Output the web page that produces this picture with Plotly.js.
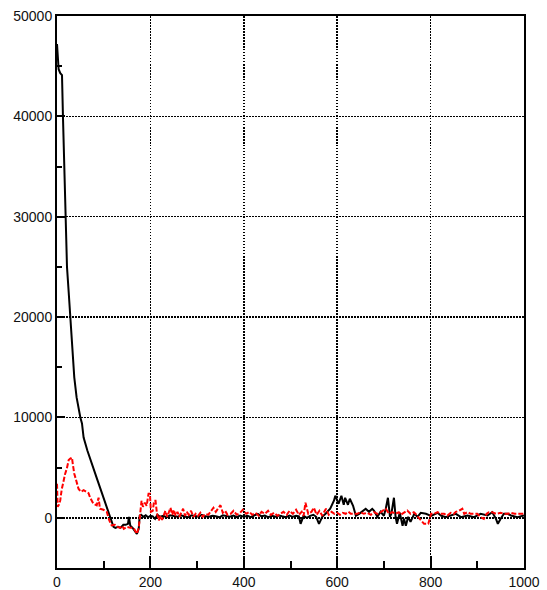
<!DOCTYPE html>
<html>
<head>
<meta charset="utf-8">
<script src="https://cdn.plot.ly/plotly-3.0.1.min.js"></script>
<style>html,body{margin:0;padding:0;background:#fff;}#chart{width:547px;height:590px;}</style>
</head>
<body>
<div id="chart"></div>
<script>
// Black (solid) series
var blackX = [0, 1, 2, 3.5, 7, 10.7, 12.8, 15.6, 17.8, 21.4, 25, 28.5, 32, 37, 42, 46.4, 50, 53.5, 57, 65, 72, 78.5, 87, 96.4, 104, 110.7, 114, 117.5, 121, 125, 131, 136, 139, 142, 147, 152, 154, 157, 162, 166, 168, 171, 175, 177, 180, 185, 190, 195, 200, 205, 210, 215, 220, 228, 235, 242, 250, 258, 265, 272, 280, 288, 295, 303, 310, 318, 325, 333, 340, 348, 355, 362, 370, 378, 385, 392, 400, 408, 415, 422, 430, 438, 445, 452, 460, 468, 475, 482, 490, 498, 505, 512, 518, 521.6, 528, 535, 542, 549, 555, 561, 568, 575, 585, 593, 596, 603, 609, 614, 617, 623, 627, 634, 640, 647, 654, 661, 668, 675, 679, 686, 693, 700, 704, 708.6, 713, 716, 721.5, 725, 728, 734, 740, 743, 747, 752, 757, 765, 772, 779, 790, 801, 815, 822, 832, 843, 854, 865, 879, 893, 907, 922, 932, 940, 944, 950, 957, 965, 972, 986, 1000];
var blackY = [47200, 46000, 45200, 44700, 44300, 44100, 39900, 34600, 30000, 25000, 22500, 20000, 16700, 14000, 12000, 10700, 10000, 9400, 8000, 6700, 5700, 4750, 3700, 2430, 1400, 600, 0, -250, -900, -1000, -900, -1000, -800, -700, -700, -600, 100, -800, -1000, -1200, -1400, -1600, -1100, 200, 300, 100, 250, 50, 200, 150, -100, 300, 100, 200, 50, 250, 150, 100, 250, 150, 50, 250, 150, 100, 300, 150, 100, 200, 150, 50, 250, 150, 100, 230, 70, 230, 100, 200, 70, 230, 400, 150, 230, 70, 200, 100, 230, 150, 70, 230, 100, 200, 150, -600, 200, 0, 200, 300, 100, -600, 100, 400, 900, 1700, 2200, 1400, 2200, 1300, 2000, 1300, 1900, 1200, 200, 400, 700, 900, 600, 900, 700, 100, 600, 200, 900, 2000, 100, 400, 2000, 100, -600, 500, -800, -100, -800, 100, -400, 400, 100, 500, 400, 200, 500, 230, 70, 230, 400, 70, 230, 70, 400, 230, 560, -100, -600, -100, 400, 400, 230, 70, 230];

// Red (dashed) series
var redX = [0, 1.4, 4, 7, 10, 14, 17.5, 21, 25, 28.5, 32, 34, 37, 41, 46, 51, 57, 62.5, 67.5, 71, 78, 85, 89, 92, 99.5, 106.5, 112, 117, 124, 130, 135, 140, 143, 150, 157, 164, 168, 171, 175, 178.5, 181, 184, 188, 192, 196, 199, 201, 205, 208, 211, 214, 218, 222, 225, 229, 232, 236, 240, 243, 247, 250, 254, 258, 262, 266, 270, 274, 278, 282, 287, 292, 297, 302, 307, 312, 318, 324, 330, 335, 340, 345, 350, 355, 360, 365, 372, 378, 385, 392, 398, 405, 412, 418, 425, 432, 438, 445, 452, 458, 465, 472, 478, 485, 492, 498, 505, 512, 518, 524, 528, 532, 538, 545, 550, 556, 562, 568, 571, 576, 582, 588, 594, 600, 606, 612, 618, 624, 629, 636, 643, 650, 657, 664, 672, 679, 686, 693, 697, 704, 711, 718, 725, 732, 736, 743, 750, 757, 764, 768, 769, 786, 793, 795, 801, 808, 815, 822, 829, 836, 843, 850, 854, 861, 868, 872, 879, 886, 893, 900, 907, 914, 920, 925, 932, 940, 950, 957, 965, 972, 980, 990, 1000];
var redY = [3400, 1100, 1300, 1750, 2800, 3750, 4400, 4900, 5750, 5900, 6000, 5300, 4400, 3750, 2900, 2600, 2750, 2600, 2450, 2000, 1400, 1250, 2000, 900, 800, 600, -250, -750, -700, -900, -1000, -800, -1100, -900, -1000, -1000, -1300, -1600, -1000, 1100, 1700, 1100, 1500, 1200, 2400, 2400, 600, 700, 1700, 1700, 440, -260, 200, -200, 400, 700, 100, 700, 1000, 300, 800, 200, 600, 100, 500, 900, 200, 600, 300, 700, 100, 400, 200, 500, 100, 400, 300, 700, 1000, 600, 900, 1260, 500, 700, 300, 400, 700, 300, 500, 800, 400, 600, 300, 500, 200, 600, 400, 700, 300, 500, 200, 400, 600, 300, 700, 400, 800, 300, 600, 200, 1500, 400, 600, 1000, 300, 700, 200, 500, 900, 300, 600, 400, 500, 300, 500, 400, 600, 400, 400, 400, 560, 400, 500, 300, 560, 400, 560, 700, 900, 400, 560, 400, 560, 300, 560, 730, 400, 560, 400, 300, -600, -600, -600, 400, 400, 560, 400, 400, 230, 500, 400, 600, 700, 900, 400, 560, 400, 400, 400, 70, -100, 400, 560, 560, 400, 500, 400, 400, 500, 400, 400, 400, 400];

var xTickVals = [0, 200, 400, 600, 800, 1000];
var yTickVals = [0, 10000, 20000, 30000, 40000, 50000];

var traces = [
  {x: blackX, y: blackY, type: 'scatter', mode: 'lines', line: {color: '#000000', width: 2}, hoverinfo: 'skip'},
  {x: redX, y: redY, type: 'scatter', mode: 'lines', line: {color: '#ff0000', width: 2, dash: '5px,2px'}, hoverinfo: 'skip'}
];

var axisCommon = {
  showline: true, linecolor: '#000', linewidth: 2, mirror: true,
  showgrid: true, gridcolor: '#000', gridwidth: 1.5, griddash: '1.5px,1.5px',
  zeroline: false, ticks: 'inside', tickcolor: '#000', tickwidth: 2,
  tickfont: {family: 'Liberation Sans, Arial, sans-serif', size: 14, color: '#111'},
  automargin: false, fixedrange: true
};

var layout = {
  width: 547, height: 590,
  margin: {l: 57, r: 23, t: 16, b: 22},
  paper_bgcolor: '#fff', plot_bgcolor: '#fff',
  showlegend: false,
  xaxis: Object.assign({}, axisCommon, {
    range: [0, 1000], tickmode: 'array', tickvals: xTickVals, ticktext: xTickVals.map(String),
    ticklen: 12,
    minor: {dtick: 100, tick0: 0, ticks: 'inside', ticklen: 7, tickwidth: 2, tickcolor: '#000', showgrid: false}
  }),
  yaxis: Object.assign({}, axisCommon, {
    range: [-5000, 50000], tickmode: 'array', tickvals: yTickVals, ticktext: yTickVals.map(String),
    ticklen: 8,
    minor: {dtick: 5000, tick0: 0, ticks: 'inside', ticklen: 5, tickwidth: 2, tickcolor: '#000', showgrid: false}
  })
};

Plotly.newPlot('chart', traces, layout, {displayModeBar: false, staticPlot: true});
</script>
</body>
</html>
